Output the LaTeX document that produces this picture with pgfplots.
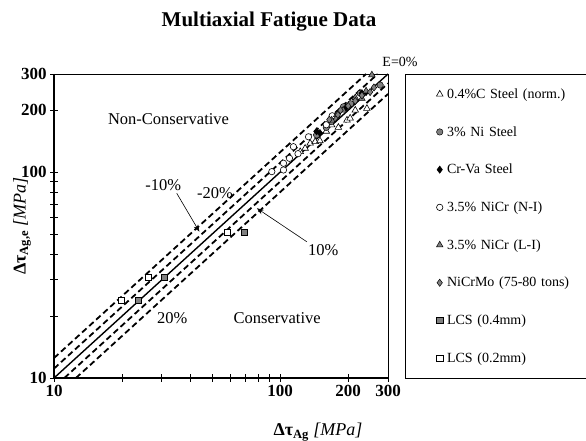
\documentclass[border=0pt]{standalone}
\usepackage{fontspec}
\setmainfont{Liberation Serif}
\usepackage{pgfplots}
\pgfplotsset{compat=1.18}
\usetikzlibrary{arrows.meta}
\definecolor{mgray}{RGB}{128,128,128}
\begin{document}
\begin{tikzpicture}
\useasboundingbox (-54pt,-63pt) rectangle (532pt,378pt);
\begin{axis}[
  at={(0pt,0pt)}, anchor=south west, scale only axis,
  width=334pt, height=304pt,
  xmode=log, ymode=log, xmin=10, xmax=300, ymin=10, ymax=300,
  xtick={10,100,200,300}, xticklabels={10,100,200,300},
  ytick={10,100,200,300}, yticklabels={10,100,200,300},
  minor xtick={20,30,40,50,60,70,80,90},
  minor ytick={20,30,40,50,60,70,80,90},
  tick align=center, xtick pos=left, ytick pos=left,
  major tick length=8pt, minor tick length=8pt,
  tick style={black, line width=0.8pt},
  ticklabel style={font=\fontsize{17}{17}\selectfont\bfseries},
  axis line style={line width=0.8pt},
  legend style={at={(1.051,1)}, anchor=north west, draw=black, line width=0.8pt,
    inner xsep=31pt, inner ysep=1pt, row sep=0pt,
    nodes={font=\fontsize{14}{16}\selectfont, minimum height=37.7pt, text width=140pt, inner xsep=4pt}},
  legend cell align=left,
  legend image code/.code={\draw[#1] plot coordinates {(0pt,0pt)};},
]
% reference lines
\addplot[black, line width=1.4pt, forget plot] coordinates {(10,10) (300,300)};
\addplot[black, line width=1.8pt, dash pattern=on 6pt off 3.5pt, forget plot] coordinates {(10,11.111) (270,300)};
\addplot[black, line width=1.8pt, dash pattern=on 6pt off 3.5pt, forget plot] coordinates {(10,12.5) (240,300)};
\addplot[black, line width=1.8pt, dash pattern=on 6pt off 3.5pt, forget plot] coordinates {(11.111,10) (300,270)};
\addplot[black, line width=1.8pt, dash pattern=on 6pt off 3.5pt, forget plot] coordinates {(12.5,10) (300,240)};
% data
\addplot[only marks, mark=triangle*, mark size=3.8pt, mark options={fill=white, draw=black, line width=0.6pt}]
 coordinates {(122.7,125.8) (129,130.6) (135.8,138.2) (142.9,140.7) (150,142) (169,169.5) (181,165) (197.6,179) (204,183) (242,204) (215,200) (160,158)};
\addlegendentry{0.4\%C Steel (norm.)}
\addplot[only marks, mark=*, mark size=3.2pt, mark options={fill=mgray, draw=black, line width=0.5pt}]
 coordinates {(145,151.7) (160,165) (175,185) (190.6,208) (205,215) (226,241.7) (277,265) (168,176)};
\addlegendentry{3\% Ni Steel}
\addplot[only marks, mark=diamond*, mark size=3.6pt, mark options={fill=black, draw=black, line width=0.5pt}]
 coordinates {(145,158) (150,155) (195,205) (230,242) (240,245)};
\addlegendentry{Cr-Va Steel}
\addplot[only marks, mark=*, mark size=3.2pt, mark options={fill=white, draw=black, line width=0.6pt}]
 coordinates {(91.9,100.6) (103.5,102.5) (103.5,110.5) (110,116.8) (114.5,133) (120,123) (133.5,148.6) (160,170) (170,188)};
\addlegendentry{3.5\% NiCr (N-I)}
\addplot[only marks, mark=triangle*, mark size=3.8pt, mark options={fill=mgray, draw=black, line width=0.5pt}]
 coordinates {(254.6,296.7) (169,179) (190,200) (215,230) (240,248) (230,228) (178,190)};
\addlegendentry{3.5\% NiCr (L-I)}
\addplot[only marks, mark=diamond*, mark size=3.6pt, mark options={fill=mgray, draw=black, line width=0.5pt}]
 coordinates {(165,180) (180,190) (185,200) (200,210) (215,222) (230,236) (250,245) (260,258)};
\addlegendentry{NiCrMo (75-80 tons)}
\addplot[only marks, mark=square*, mark size=3.1pt, mark options={fill=mgray, draw=black, line width=0.5pt}]
 coordinates {(23.5,23.9) (30.8,30.9) (69.5,51.1)};
\addlegendentry{LCS (0.4mm)}
\addplot[only marks, mark=square*, mark size=3.1pt, mark options={fill=white, draw=black, line width=0.6pt}]
 coordinates {(19.8,23.9) (26.1,30.9) (58.5,51.1)};
\addlegendentry{LCS (0.2mm)}
% annotations
\node[font=\fontsize{16.5}{18}\selectfont] at (axis cs:32.1,180.7) {Non-Conservative};
\node[font=\fontsize{16.5}{18}\selectfont] at (axis cs:97,19.6) {Conservative};
\node[font=\fontsize{16.5}{18}\selectfont] at (axis cs:33.3,19.6) {20\%};
\node[font=\fontsize{16.5}{18}\selectfont] at (axis cs:30.4,86.7) {-10\%};
\node[font=\fontsize{16.5}{18}\selectfont] at (axis cs:51.5,79.5) {-20\%};
\node[font=\fontsize{16.5}{18}\selectfont] at (axis cs:155,41.6) {10\%};
\draw[-{Stealth[length=7pt,width=5pt]}, line width=0.6pt] (axis cs:34.9,79) -- (axis cs:43.95,51.4);
\draw[-{Stealth[length=7pt,width=5pt]}, line width=0.6pt] (axis cs:131.3,45.9) -- (axis cs:78.9,66.8);
\end{axis}
\draw[line width=1.8pt] (0pt,304pt) -- (0pt,0pt) -- (334pt,0pt);
\node[font=\fontsize{21}{24}\selectfont\bfseries] at (215pt,356pt) {Multiaxial Fatigue Data};
\node[font=\fontsize{14}{16}\selectfont] at (346pt,316pt) {E=0\%};
\node[rotate=90, font=\fontsize{18}{20}\selectfont] at (-32pt,152pt) {\textbf{Δτ}\textsubscript{\textbf{Ag,e}} \textit{[MPa]}};
\node[font=\fontsize{18}{20}\selectfont] at (264pt,-54pt) {\textbf{Δτ}\textsubscript{\textbf{Ag}} \textit{[MPa]}};
\end{tikzpicture}
\end{document}
